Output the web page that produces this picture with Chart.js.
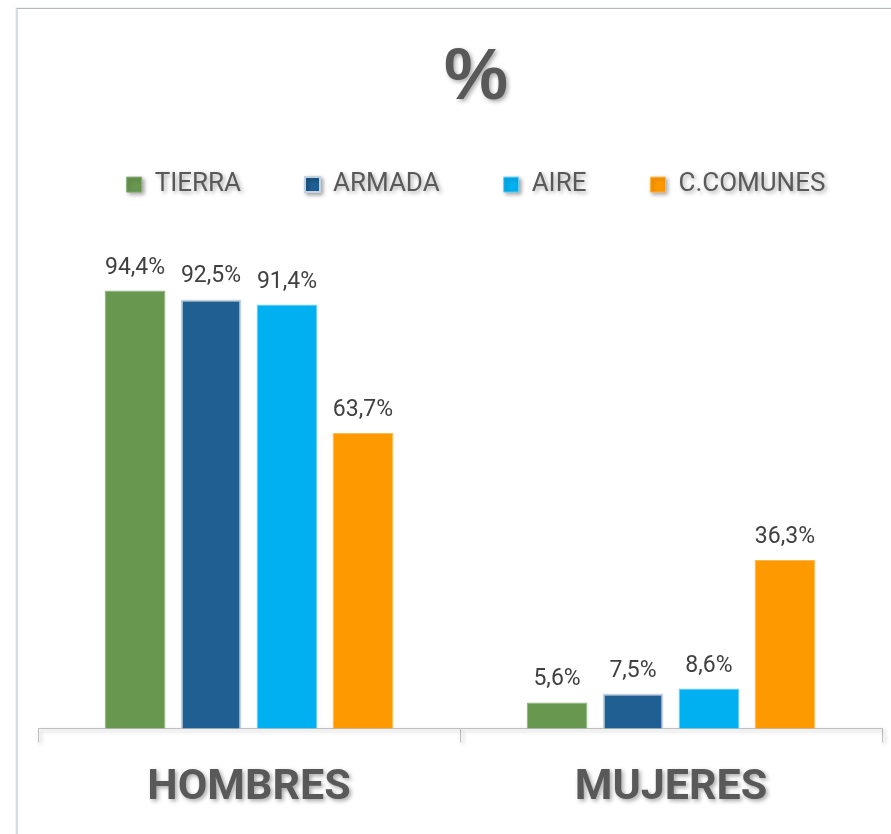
<!DOCTYPE html>
<html>
<head>
<meta charset="utf-8">
<script src="https://cdn.jsdelivr.net/npm/chart.js@4.4.1/dist/chart.umd.min.js"></script>
<style>
  html, body { margin: 0; padding: 0; width: 891px; height: 834px; overflow: hidden; background: #ffffff; }
  #frame { position: absolute; left: 16px; top: 8px; right: -20px; bottom: -20px;
           border-top: 1px solid #b8b8b8; border-left: 2px solid #d3dde5;
           box-shadow: -1px -1px 0 #eef4f8; }
  #wrap { position: absolute; left: 0; top: 0; width: 914px; height: 834px; }
</style>
</head>
<body>
<div id="frame"></div>
<div id="wrap"><canvas id="c" width="914" height="834"></canvas></div>
<script>
const categories = ['HOMBRES', 'MUJERES'];
const seriesNames = ['TIERRA', 'ARMADA', 'AIRE', 'C.COMUNES'];
const tierra = [94.4, 5.6];
const armada = [92.5, 7.5];
const aire = [91.4, 8.6];
const comunes = [63.7, 36.3];
const titleText = '%';

const FONT = "Roboto, 'Liberation Sans', sans-serif";
const GRAY = '#595959';

const shadowPlugin = {
  id: 'textShadow',
  beforeDraw(chart) {
    const ctx = chart.ctx;
    ctx.save();
    ctx.shadowColor = 'rgba(0,0,0,0.35)';
    ctx.shadowBlur = 4;
    ctx.shadowOffsetX = 2;
    ctx.shadowOffsetY = 2;
  },
  beforeDatasetsDraw(chart) {
    chart.ctx.restore();
  }
};

const labelPlugin = {
  id: 'valueLabels',
  afterDatasetsDraw(chart) {
    const ctx = chart.ctx;
    ctx.save();
    ctx.font = "23px " + FONT;
    ctx.fillStyle = '#404040';
    ctx.textAlign = 'center';
    ctx.textBaseline = 'alphabetic';
    chart.data.datasets.forEach((ds, i) => {
      const meta = chart.getDatasetMeta(i);
      meta.data.forEach((bar, j) => {
        const v = ds.data[j];
        const txt = v.toFixed(1).replace('.', ',') + '%';
        ctx.fillText(txt, bar.x, bar.y - 17);
      });
    });
    ctx.restore();
  }
};

const colors = ['#68984f', '#1f5f92', '#00b0f0', '#ff9900'];
const borders = ['#8aae76', '#c3d2de', '#6fd0f4', '#ffb84d'];
const borderWidths = [1, 2, 1, 1];
const values = [tierra, armada, aire, comunes];

new Chart(document.getElementById('c'), {
  type: 'bar',
  data: {
    labels: categories,
    datasets: seriesNames.map((n, i) => ({
      label: n,
      data: values[i],
      backgroundColor: colors[i],
      borderColor: borders[i],
      borderWidth: borderWidths[i],
      categoryPercentage: 0.72,
      barPercentage: 0.80,
      clip: false
    }))
  },
  options: {
    responsive: false,
    animation: false,
    layout: { padding: { top: 50, left: 38, right: 0, bottom: 0 } },
    plugins: {
      title: {
        display: true,
        text: titleText,
        color: GRAY,
        font: { family: "'Liberation Sans', sans-serif", size: 72, weight: 'bold', lineHeight: 0.8 },
        padding: 0
      },
      legend: {
        display: true,
        labels: {
          color: GRAY,
          font: { family: FONT, size: 26 },
          boxWidth: 15,
          boxHeight: 15,
          padding: 64
        }
      },
      tooltip: { enabled: false }
    },
    scales: {
      x: {
        grid: { display: true, drawOnChartArea: false, drawTicks: true, tickLength: 14, color: '#bfbfbf', offset: true },
        border: { display: true, color: '#bfbfbf', width: 1 },
        ticks: { color: GRAY, font: { family: FONT, size: 43, weight: 'bold' }, padding: 20 }
      },
      y: {
        position: 'right',
        min: 0,
        max: 112.3,
        grid: { display: false },
        border: { display: false },
        ticks: { display: false },
        afterFit(s) { s.width = 32; }
      }
    }
  },
  plugins: [shadowPlugin, labelPlugin]
});
</script>
</body>
</html>
